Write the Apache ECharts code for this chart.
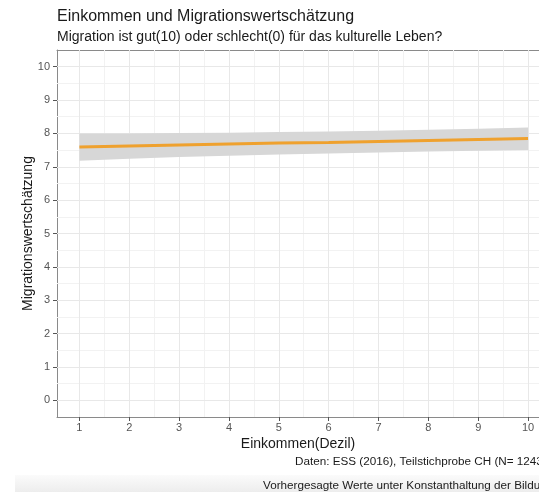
<!DOCTYPE html>
<html>
<head>
<meta charset="utf-8">
<script src="https://cdn.jsdelivr.net/npm/echarts@6/dist/echarts.min.js"></script>
<style>
  html, body { margin: 0; padding: 0; background: #fff; }
  #chart { width: 539px; height: 492px; }
</style>
</head>
<body>
<div id="chart"></div>
<script>
// Income deciles and predicted attitude toward migration (with confidence band)
const deciles   = [1, 2, 3, 4, 5, 6, 7, 8, 9, 10];
const predicted = [7.59, 7.62, 7.65, 7.68, 7.71, 7.73, 7.76, 7.79, 7.82, 7.85];
const lowerCI   = [7.18, 7.24, 7.29, 7.33, 7.37, 7.40, 7.43, 7.46, 7.48, 7.50];
const upperCI   = [8.00, 8.00, 8.01, 8.02, 8.04, 8.06, 8.08, 8.11, 8.14, 8.18];

const xTicks = [1, 2, 3, 4, 5, 6, 7, 8, 9, 10];
const yTicks = [0, 1, 2, 3, 4, 5, 6, 7, 8, 9, 10];

// visible x window: panel runs on past the right edge of the page
const X_MIN = 0.55, X_MAX = 10.22;

const FONT = '"Liberation Sans", Arial, sans-serif';
const FRAME = { show: true, onZero: false, lineStyle: { color: '#8a8a8a', width: 1 } };

// grid lines: major at ticks, minor half-way between them
const midpoints = arr => arr.slice(0, -1).map((v, i) => (v + arr[i + 1]) / 2);
const majorStyle = { color: '#e8e8e8', width: 1, type: 'solid' };
const minorStyle = { color: '#f2f2f2', width: 1, type: 'solid' };
const gridLines = [].concat(
  midpoints(xTicks).map(v => ({ xAxis: v, lineStyle: minorStyle })),
  midpoints(yTicks).map(v => ({ yAxis: v, lineStyle: minorStyle })),
  xTicks.map(v => ({ xAxis: v, lineStyle: majorStyle })),
  yTicks.map(v => ({ yAxis: v, lineStyle: majorStyle }))
);

// confidence band as one polygon: upper edge left→right, lower edge right→left
const bandData = deciles.map((d, i) => [d, lowerCI[i], upperCI[i]]);
function renderBand(params, api) {
  const upper = bandData.map(r => api.coord([r[0], r[2]]));
  const lower = bandData.map(r => api.coord([r[0], r[1]])).reverse();
  return {
    type: 'polygon',
    silent: true,
    shape: { points: upper.concat(lower) },
    style: { fill: '#d7d7d7' }
  };
}

const chart = echarts.init(document.getElementById('chart'), null, { renderer: 'canvas' });

chart.setOption({
  animation: false,
  backgroundColor: '#ffffff',
  title: [
    {
      text: 'Einkommen und Migrationswertschätzung',
      left: 57, top: 9, padding: 0,
      textStyle: { fontFamily: FONT, fontSize: 16, fontWeight: 'normal', color: '#1a1a1a' }
    },
    {
      text: 'Migration ist gut(10) oder schlecht(0) für das kulturelle Leben?',
      left: 57, top: 30, padding: 0,
      textStyle: { fontFamily: FONT, fontSize: 14, fontWeight: 'normal', color: '#1a1a1a' }
    }
  ],
  grid: {
    left: 57, top: 50, right: 0, bottom: 75,
    show: false
  },
  xAxis: [
    {
      type: 'value',
      min: X_MIN, max: X_MAX,
      name: 'Einkommen(Dezil)',
      nameLocation: 'middle',
      nameGap: 20,
      nameMoveOverlap: false,
      nameTextStyle: { fontFamily: FONT, fontSize: 14, color: '#1a1a1a', padding: 0 },
      axisLine: FRAME,
      axisTick: { show: true, length: 4, customValues: xTicks, lineStyle: { color: '#555' } },
      axisLabel: { customValues: xTicks, margin: 5, fontFamily: FONT, fontSize: 11, color: '#555' },
      splitLine: { show: false }
    },
    {
      // top edge of the panel
      type: 'value',
      position: 'top',
      min: X_MIN, max: X_MAX,
      axisLine: FRAME,
      axisTick: { show: false },
      axisLabel: { show: false },
      splitLine: { show: false }
    }
  ],
  yAxis: {
    type: 'value',
    min: -0.5, max: 10.5,
    name: 'Migrationswertschätzung',
    nameLocation: 'middle',
    nameGap: 22,
    nameMoveOverlap: false,
    nameTextStyle: { fontFamily: FONT, fontSize: 14, color: '#1a1a1a', padding: 0 },
    axisLine: FRAME,
    axisTick: { show: true, length: 4, customValues: yTicks, lineStyle: { color: '#555' } },
    axisLabel: { customValues: yTicks, margin: 7, fontFamily: FONT, fontSize: 11, color: '#555' },
    splitLine: { show: false }
  },
  graphic: [
    {
      type: 'rect', left: 15, top: 475, z: -1, silent: true,
      shape: { width: 530, height: 17 },
      style: {
        fill: new echarts.graphic.LinearGradient(0, 0, 0, 1, [
          { offset: 0, color: '#fbfbfb' },
          { offset: 1, color: '#ededed' }
        ])
      }
    },
    {
      type: 'text', left: 295, top: 456, silent: true,
      style: { text: 'Daten: ESS (2016), Teilstichprobe CH (N= 1243)', font: '11.7px ' + FONT, fill: '#1a1a1a' }
    },
    {
      type: 'text', left: 263, top: 480, silent: true,
      style: { text: 'Vorhergesagte Werte unter Konstanthaltung der Bildung', font: '11.7px ' + FONT, fill: '#1a1a1a' }
    }
  ],
  series: [
    {
      name: 'gitter',
      type: 'line',
      z: 1,
      data: [],
      silent: true,
      markLine: {
        z: 1,
        silent: true,
        symbol: 'none',
        label: { show: false },
        emphasis: { disabled: true },
        data: gridLines
      }
    },
    {
      name: 'Konfidenzband',
      type: 'custom',
      z: 2,
      silent: true,
      renderItem: (params, api) => params.dataIndex === 0 ? renderBand(params, api) : null,
      data: bandData
    },
    {
      name: 'Vorhersage',
      type: 'line',
      z: 3,
      symbol: 'none',
      silent: true,
      lineStyle: { color: '#EFA12E', width: 3 },
      data: deciles.map((d, i) => [d, predicted[i]])
    }
  ]
});
</script>
</body>
</html>
